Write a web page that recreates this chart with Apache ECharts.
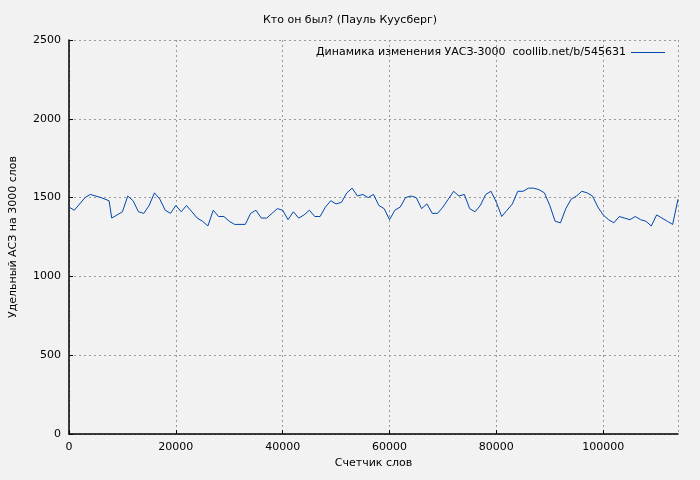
<!DOCTYPE html><html><head><meta charset="utf-8"><script src="https://cdn.jsdelivr.net/npm/echarts@6/dist/echarts.min.js"></script></head><body style="margin:0;background:#f2f2f2"><div id="c" style="width:700px;height:480px"></div><script>
const words=[0,1000,3000,4000,6000,7500,8000,10000,11000,12000,13000,14000,15000,16000,17000,18000,19000,20000,21000,22000,24000,25000,26000,27000,28000,29000,30000,31000,33000,34000,35000,36000,37000,38000,39000,40000,41000,42000,43000,44000,45000,46000,47000,48000,49000,50000,51000,52000,53000,54000,55000,56000,57000,58000,59000,60000,61000,62000,63000,64000,65000,66000,67000,68000,69000,70000,71000,72000,73000,74000,75000,76000,77000,78000,79000,80000,81000,82000,83000,84000,85000,86000,87000,88000,89000,90000,91000,92000,93000,94000,95000,96000,97000,98000,99000,100000,101000,102000,103000,104000,105000,106000,107000,108000,109000,110000,111000,112000,113000,114000];
const values=[1440,1420,1500,1520,1500,1480,1370,1410,1510,1480,1410,1400,1450,1530,1490,1420,1400,1450,1410,1450,1370,1350,1320,1420,1380,1380,1350,1330,1330,1400,1420,1370,1370,1400,1430,1420,1360,1410,1370,1390,1420,1380,1380,1440,1480,1460,1470,1530,1560,1510,1520,1500,1520,1450,1430,1360,1420,1440,1500,1510,1500,1430,1460,1400,1400,1440,1490,1540,1510,1520,1430,1410,1450,1520,1540,1470,1380,1420,1460,1540,1540,1560,1560,1550,1530,1450,1350,1340,1430,1490,1510,1540,1530,1510,1440,1390,1360,1340,1380,1370,1360,1380,1360,1350,1320,1390,1370,1350,1330,1490];
const seriesName='Динамика изменения УАСЗ-3000  coollib.net/b/545631';
const f='DejaVu Sans';
const ch=echarts.init(document.getElementById('c'));
const ax={axisLine:{lineStyle:{color:'#000',width:1.5}},axisTick:{inside:true,length:4,lineStyle:{color:'#000'}},axisLabel:{color:'#000',fontFamily:f,fontSize:11,formatter:v=>String(v)},splitLine:{show:true,lineStyle:{color:'#999',type:[2,3]}},nameLocation:'middle',nameTextStyle:{color:'#000',fontFamily:f,fontSize:11}};
ch.setOption({backgroundColor:'#f2f2f2',animation:false,
title:{text:'Кто он был? (Пауль Куусберг)',left:'center',top:10,textStyle:{fontFamily:f,fontSize:11,fontWeight:'normal',color:'#000'}},
legend:{right:30,top:42,icon:'path://M0,0H40V1H0Z',itemWidth:34,itemHeight:1,align:'right',textStyle:{fontFamily:f,fontSize:11,color:'#000'}},
grid:{left:68,right:22,top:40,bottom:46},
xAxis:Object.assign({},ax,{type:'value',min:0,max:114000,interval:20000,name:'Счетчик слов',nameGap:24,axisLabel:Object.assign({},ax.axisLabel,{showMaxLabel:false})}),
yAxis:Object.assign({type:'value',min:0,max:2500,interval:500,name:'Удельный АСЗ на 3000 слов',nameGap:50},ax),
series:[{name:seriesName,type:'line',data:words.map((w,i)=>[w,values[i]]),symbol:'none',lineStyle:{color:'#0047ab',width:1},itemStyle:{color:'#0047ab'}}]});
</script></body></html>
